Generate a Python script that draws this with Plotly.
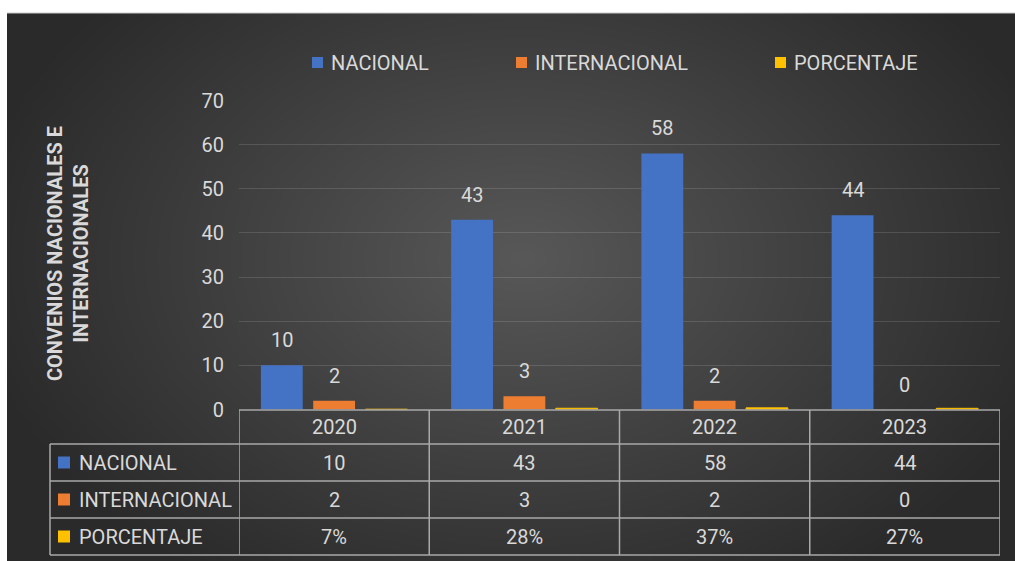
import base64
import struct
import zlib

import numpy as np
import plotly.graph_objects as go

# ---- data -------------------------------------------------------------
years = ["2020", "2021", "2022", "2023"]
nacional = [10, 43, 58, 44]
internacional = [2, 3, 2, 0]
porcentaje = [0.07, 0.28, 0.37, 0.27]
series_names = ["NACIONAL", "INTERNACIONAL", "PORCENTAJE"]
y_tick_values = [0, 10, 20, 30, 40, 50, 60, 70]
y_title = "CONVENIOS NACIONALES E<br>INTERNACIONALES"

# ---- styling ----------------------------------------------------------
W, H = 1015, 561
FONT = "Roboto, Liberation Sans, Arial, sans-serif"
FS = 20
TXT = "#d9d9d9"
GRID = "rgba(255,255,255,0.13)"
TABLE_LINE = "#a9a9a9"
COLORS = ["#4472C4", "#ED7D31", "#FFC000"]


def fx(px):
    return px / W


def fy(px):
    return 1 - px / H


def radial_png(w, h, cx, cy, rx, ry, inner, outer):
    """Dark radial gradient encoded as a PNG data URI."""
    yy, xx = np.mgrid[0:h, 0:w].astype(float)
    d = np.sqrt(((xx - cx) / rx) ** 2 + ((yy - cy) / ry) ** 2)
    d = np.clip(d, 0, 1)
    v = inner + (outer - inner) * d
    img = np.clip(v, 0, 255).astype(np.uint8)
    rgb = np.stack([img, img, img], axis=-1)
    raw = b"".join(b"\x00" + rgb[r].tobytes() for r in range(h))

    def chunk(tag, data):
        c = struct.pack(">I", len(data)) + tag + data
        return c + struct.pack(">I", zlib.crc32(tag + data) & 0xFFFFFFFF)

    png = b"\x89PNG\r\n\x1a\n"
    png += chunk(b"IHDR", struct.pack(">IIBBBBB", w, h, 8, 2, 0, 0, 0))
    png += chunk(b"IDAT", zlib.compress(raw, 9))
    png += chunk(b"IEND", b"")
    return "data:image/png;base64," + base64.b64encode(png).decode()


# chart area on the page
BG_X0, BG_Y0, BG_X1, BG_Y1 = 7, 13, 1015, 561
bg = radial_png(BG_X1 - BG_X0, BG_Y1 - BG_Y0, 515, 245, 560, 390, 0x58, 0x2A)

# plot area
PX0, PX1 = 239, 1000
PY_TOP, PY_ZERO = 100.5, 409.5

fig = go.Figure()
for name, vals, col in zip(series_names, [nacional, internacional, porcentaje], COLORS):
    fig.add_trace(
        go.Bar(
            x=years,
            y=vals,
            name=name,
            marker=dict(
                color=col,
                line=dict(color=col if name == "PORCENTAJE" else "rgba(0,0,0,0)",
                          width=1),
            ),
            hoverinfo="x+y+name",
        )
    )

annotations = []
shapes = []

# value labels above the first two series (x given as category index)
slot = (PX1 - PX0) / len(years) * (1 - 0.175) / 3
for vals, shift in [(nacional, -slot), (internacional, 0)]:
    for i, v in enumerate(vals):
        annotations.append(dict(
            x=i, y=v, xref="x", yref="y", text=str(v), showarrow=False,
            xshift=shift, yshift=25, yanchor="middle",
            font=dict(family=FONT, size=FS, color=TXT),
        ))

# axis title
annotations.append(dict(
    x=fx(68), y=fy(254), xref="paper", yref="paper", text="<b>" + y_title + "</b>",
    textangle=-90, showarrow=False, xanchor="center", yanchor="middle",
    font=dict(family=FONT, size=FS, color=TXT),
))

# legend across the top
legend_items = [(312, series_names[0]), (516, series_names[1]), (775, series_names[2])]
for (sx, name), col in zip(legend_items, COLORS):
    shapes.append(dict(type="rect", xref="paper", yref="paper",
                       x0=fx(sx), x1=fx(sx + 11), y0=fy(68), y1=fy(57),
                       fillcolor=col, line=dict(width=0)))
    annotations.append(dict(
        x=fx(sx + 17), y=fy(62.5), xref="paper", yref="paper", text=name,
        showarrow=False, xanchor="left", yanchor="middle",
        font=dict(family=FONT, size=FS, color=TXT),
    ))

# data table under the chart
row_lines = [410, 444, 481, 518, 555]
TABLE_LEFT = 50
for i, yl in enumerate(row_lines):
    x0 = fx(PX0) if i == 0 else fx(TABLE_LEFT)
    shapes.append(dict(type="line", xref="paper", yref="paper",
                       x0=x0, x1=fx(PX1), y0=fy(yl), y1=fy(yl),
                       line=dict(color=TABLE_LINE, width=1.5)))
for k in range(len(years) + 1):
    shapes.append(dict(type="line", xref="x", yref="paper",
                       x0=k - 0.5, x1=k - 0.5, y0=fy(row_lines[0]), y1=fy(row_lines[-1]),
                       line=dict(color=TABLE_LINE, width=1.5)))
shapes.append(dict(type="line", xref="paper", yref="paper",
                   x0=fx(TABLE_LEFT), x1=fx(TABLE_LEFT), y0=fy(row_lines[1]),
                   y1=fy(row_lines[-1]), line=dict(color=TABLE_LINE, width=1.5)))

row_centers = [(a + b) / 2 for a, b in zip(row_lines[:-1], row_lines[1:])]
for i, yr in enumerate(years):
    annotations.append(dict(
        x=i, y=fy(row_centers[0]), xref="x", yref="paper", text=yr,
        showarrow=False, yanchor="middle", font=dict(family=FONT, size=FS, color=TXT)))

table_rows = [
    [str(v) for v in nacional],
    [str(v) for v in internacional],
    [f"{round(v * 100)}%" for v in porcentaje],
]
for r, (name, col, cells) in enumerate(zip(series_names, COLORS, table_rows)):
    yc = row_centers[r + 1]
    shapes.append(dict(type="rect", xref="paper", yref="paper",
                       x0=fx(58), x1=fx(70), y0=fy(yc + 6), y1=fy(yc - 6),
                       fillcolor=col, line=dict(width=0)))
    annotations.append(dict(
        x=fx(77), y=fy(yc), xref="paper", yref="paper", text=name,
        showarrow=False, xanchor="left", yanchor="middle",
        font=dict(family=FONT, size=FS, color=TXT)))
    for i, cell in enumerate(cells):
        annotations.append(dict(
            x=i, y=fy(yc), xref="x", yref="paper", text=cell,
            showarrow=False, yanchor="middle",
            font=dict(family=FONT, size=FS, color=TXT)))

# thin frame edge at the top of the chart area
shapes.append(dict(type="line", xref="paper", yref="paper",
                   x0=fx(BG_X0), x1=1, y0=fy(BG_Y0), y1=fy(BG_Y0),
                   line=dict(color="#c8c8c8", width=1)))

fig.update_layout(
    width=W,
    height=H,
    margin=dict(l=0, r=0, t=0, b=0, pad=0),
    paper_bgcolor="white",
    plot_bgcolor="rgba(0,0,0,0)",
    barmode="group",
    bargap=0.175,
    bargroupgap=0.2,
    showlegend=False,
    images=[dict(source=bg, xref="paper", yref="paper",
                 x=fx(BG_X0), y=fy(BG_Y0), sizex=fx(BG_X1 - BG_X0),
                 sizey=(BG_Y1 - BG_Y0) / H, xanchor="left", yanchor="top",
                 sizing="stretch", layer="below")],
    xaxis=dict(
        type="category",
        domain=[fx(PX0), fx(PX1)],
        range=[-0.5, len(years) - 0.5],
        showticklabels=False,
        showgrid=False,
        zeroline=False,
        showline=False,
        ticks="",
        automargin=False,
    ),
    yaxis=dict(
        domain=[fy(PY_ZERO), fy(PY_TOP)],
        range=[0, 70],
        tickvals=y_tick_values,
        showgrid=True,
        gridcolor=GRID,
        gridwidth=1,
        zeroline=False,
        showline=False,
        ticks="",
        ticklabelstandoff=14,
        automargin=False,
        tickfont=dict(family=FONT, size=FS, color=TXT),
    ),
    annotations=annotations,
    shapes=shapes,
)

fig.write_html("out.html")
